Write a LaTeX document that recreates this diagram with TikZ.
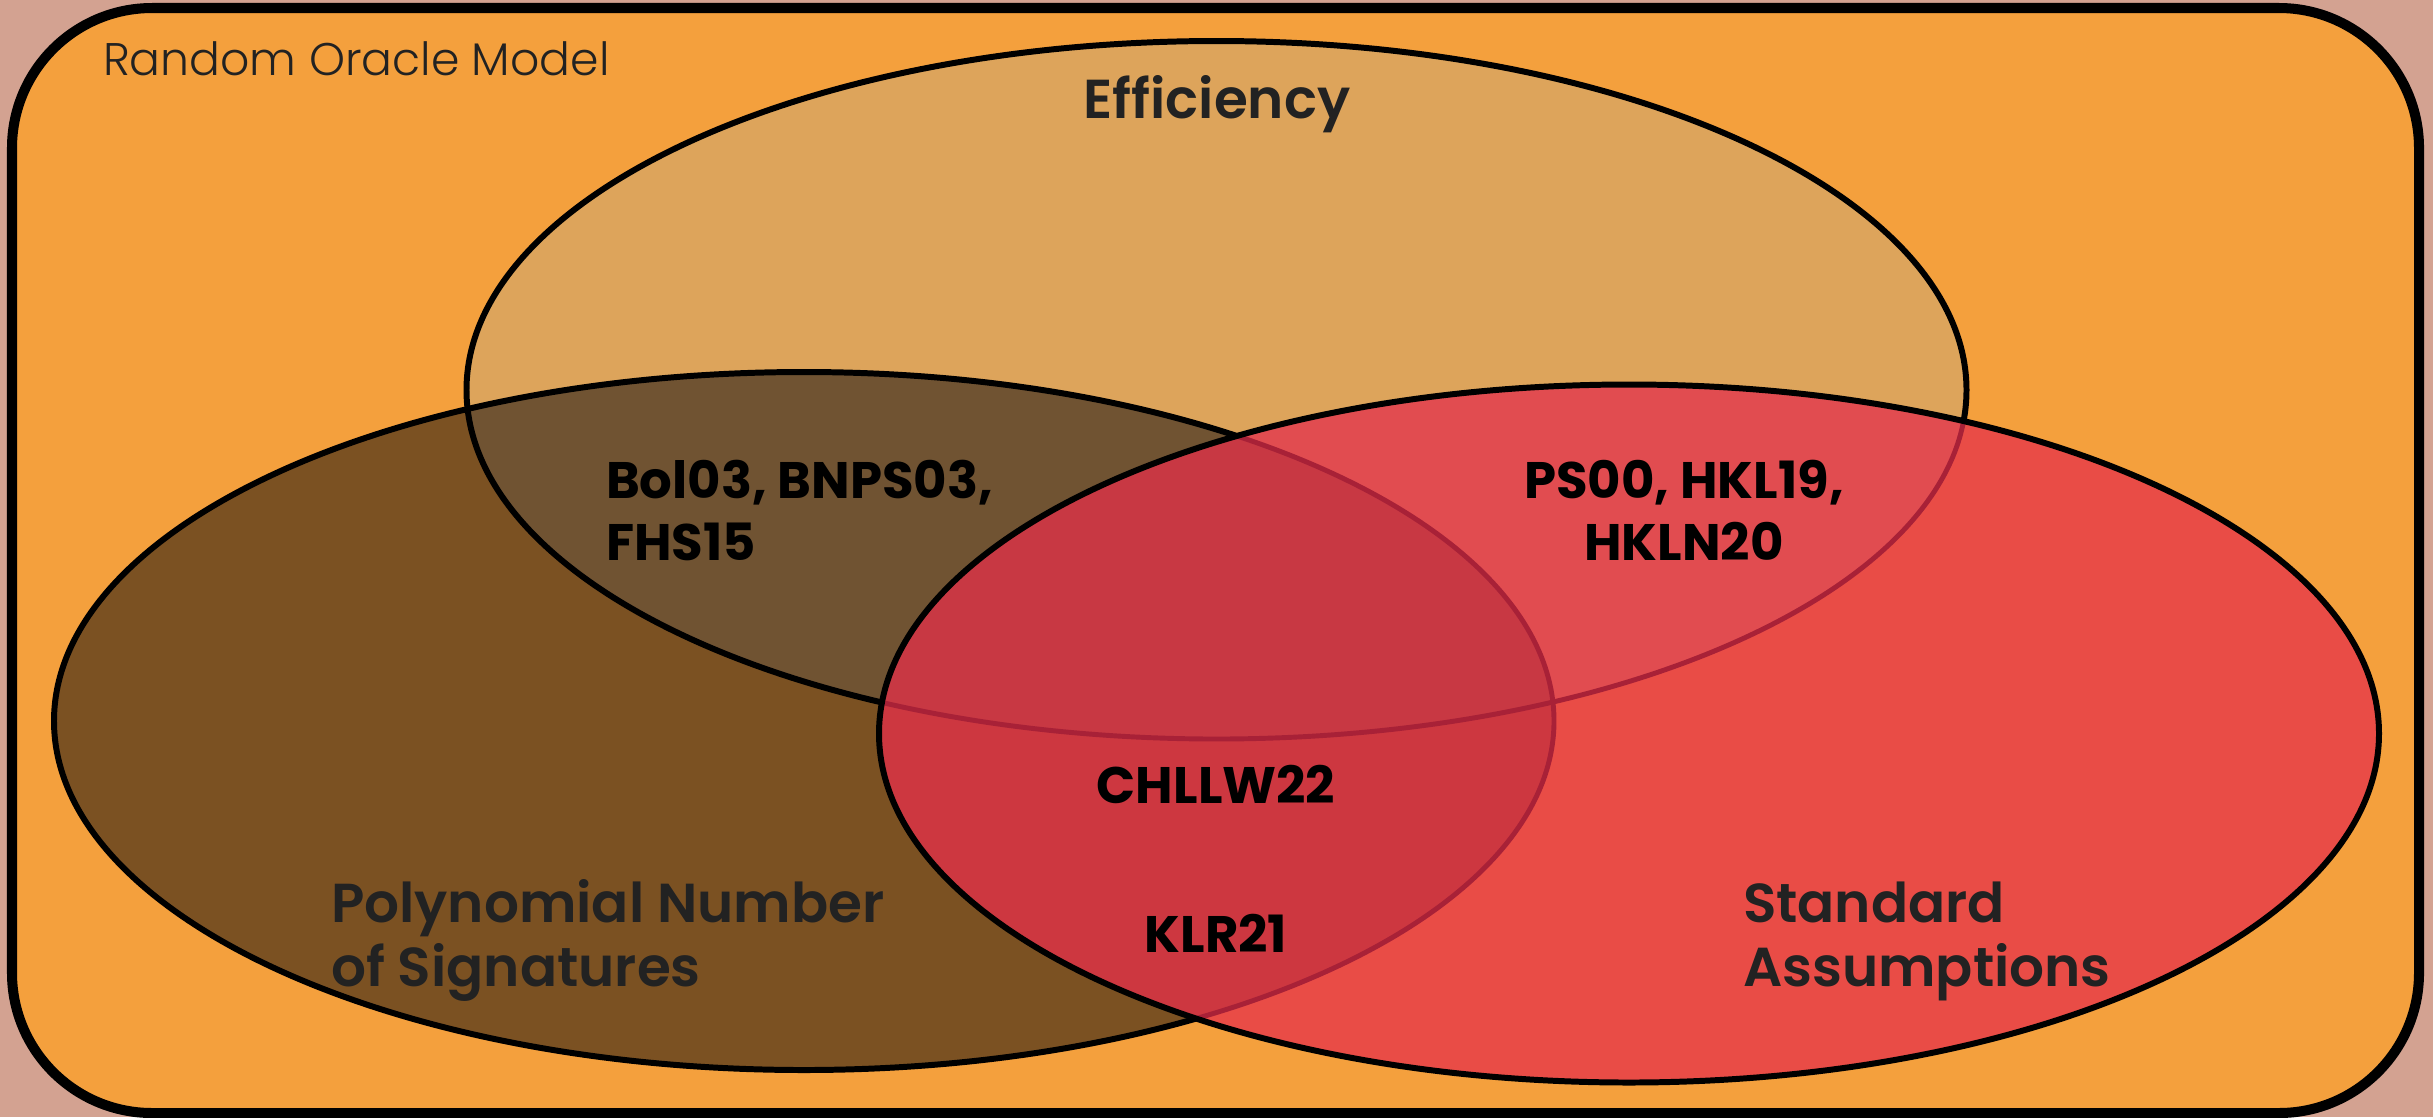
\documentclass[tikz,border=0pt]{standalone}
\usepackage{fontspec}
\setmainfont{Poppins}
\newfontfamily\venLight{Poppins Light}
\newfontfamily\venSemi{Poppins SemiBold}
\usetikzlibrary{positioning}
\definecolor{venRose}{HTML}{D3A291}
\definecolor{venOrange}{HTML}{F4A03D}
\definecolor{venTan}{HTML}{DDA45B}
\definecolor{venBrown}{HTML}{7B5122}
\definecolor{venMud}{HTML}{705332}
\definecolor{venRed}{HTML}{E94C46}
\definecolor{venRedTan}{HTML}{E14C50}
\definecolor{venRedBrown}{HTML}{CD3740}
\definecolor{venRedAll}{HTML}{C83843}
\definecolor{venWine}{HTML}{A82137}
\definecolor{venInk}{HTML}{222222}

\begin{document}
\begin{tikzpicture}[x=0.01cm, y=-0.01cm,
      every node/.style={inner sep=0pt, outer sep=0pt},
      ell/.style={x radius=750, y radius=349},
      rim/.style={draw=black, line width=2.85pt, rounded corners=1.4cm},
      edge/.style={draw=black, line width=1.7pt},
      ghost/.style={draw=venWine, line width=1.4pt},
      frame/.style={font=\venLight\fontsize{13pt}{15pt}\selectfont, text=venInk},
      setname/.style={font=\venSemi\fontsize{15.6pt}{18.2pt}\selectfont, text=venInk, align=left},
      cite/.style={font=\bfseries\fontsize{14.6pt}{17.4pt}\selectfont, text=black}]
    \useasboundingbox (0,0) rectangle (2433,1117);
    \fill[venRose] (0,0) rectangle (2433,1117);
    \path[rim, fill=venOrange] (12,8) rectangle (2419,1113);
    \coordinate (eff)  at (1216.5,390);
    \coordinate (poly) at (804,721);
    \coordinate (std)  at (1629,733.5);
    % the two upper sets
    \fill[venBrown] (poly) ellipse [ell];
    \fill[venTan] (eff) ellipse [ell];
    \begin{scope}
      \clip (eff) ellipse [ell];
      \fill[venMud] (poly) ellipse [ell];
    \end{scope}
    \path[edge] (eff) ellipse [ell];
    \path[edge] (poly) ellipse [ell];
    % standard assumptions on top
    \begin{scope}
      \clip (std) ellipse [ell];
      \fill[venRed] (std) ellipse [ell];
      \fill[venRedTan] (eff) ellipse [ell];
      \fill[venRedBrown] (poly) ellipse [ell];
      \begin{scope}
        \clip (eff) ellipse [ell];
        \fill[venRedAll] (poly) ellipse [ell];
      \end{scope}
      \path[ghost] (eff) ellipse [ell];
      \path[ghost] (poly) ellipse [ell];
    \end{scope}
    \path[edge] (std) ellipse [ell];
    % labels (base of a two-line node is its last line)
    \node[frame, anchor=base west] (rom) at (103,75) {Random Oracle Model};
    \node[setname, anchor=base] (effname) at (1217,118) {Efficiency};
    \node[setname, anchor=base west] (polyname) at (331,986) {Polynomial Number\\of Signatures};
    \node[setname, anchor=base west] (stdname) at (1743,986) {Standard\\Assumptions};
    \node[cite, anchor=base west, align=left] (effpoly) at (606,560) {Bol03, BNPS03,\\FHS15};
    \node[cite, anchor=base, align=center] (effstd) at (1684,560) {PS00, HKL19,\\HKLN20};
    \node[cite, anchor=base] (allthree) at (1216,803) {CHLLW22};
    \node[cite, anchor=base] (polystd) at (1216,952) {KLR21};
  \end{tikzpicture}
\end{document}
